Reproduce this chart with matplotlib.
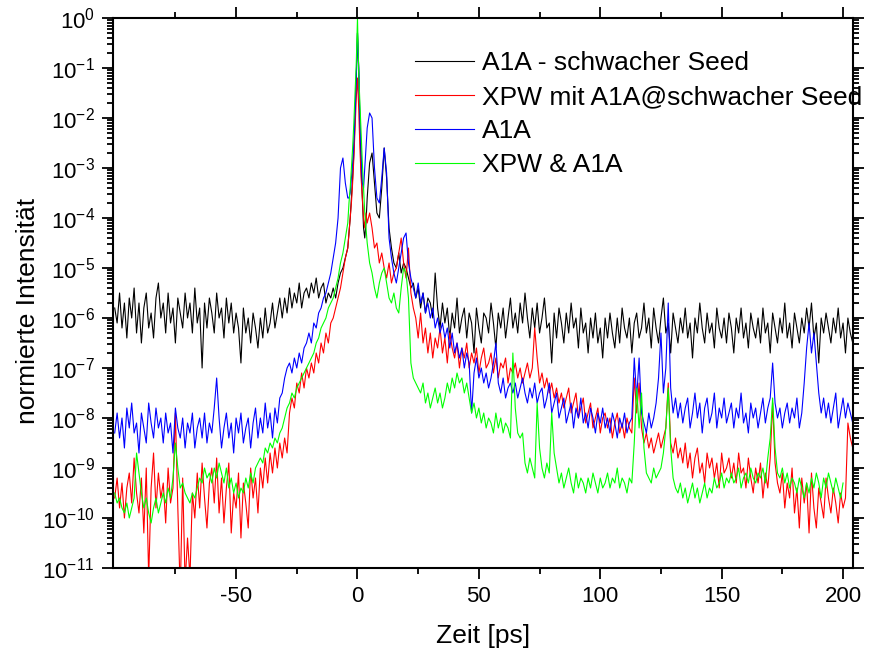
import numpy as np
import matplotlib
matplotlib.use('Agg')
import matplotlib.pyplot as plt
from matplotlib.ticker import FixedLocator, LogLocator, NullFormatter

plt.rcParams['font.family'] = ['Liberation Sans', 'DejaVu Sans']
plt.rcParams['mathtext.fontset'] = 'custom'
plt.rcParams['mathtext.rm'] = 'Liberation Sans'
plt.rcParams['mathtext.it'] = 'Liberation Sans'
plt.rcParams['axes.unicode_minus'] = False

# time grid [ps]: coarse on the wings, finer around the main pulse
x_left = np.arange(-100, -3)            # -100 .. -4
x_mid = np.arange(-3.5, 4.0, 0.5)       # -3.5 .. 3.5
x_right = np.arange(4, 205)             # 4 .. 204

# log10 of normalised intensity
black_left = [
    -5.8, -6.1, -5.5, -6.2, -5.7, -6.4, -5.6, -6.0, -5.4, -6.3,
    -5.7, -6.5, -5.8, -5.5, -6.2, -5.9, -6.4, -5.6, -5.3, -6.0,
    -5.7, -6.3, -5.5, -6.1, -5.8, -6.5, -5.6, -5.9, -6.2, -5.5,
    -6.0, -5.7, -6.3, -5.4, -6.1, -5.8, -7.0, -5.7, -6.2, -5.6,
    -5.9, -6.3, -5.5, -6.0, -5.8, -6.4, -5.6, -6.1, -5.7, -6.3,
    -5.9, -6.2, -6.9, -5.8, -6.3, -6.0, -6.5, -5.9, -6.2, -6.6,
    -6.0, -6.4, -5.8, -6.3, -6.1, -5.7, -6.2, -5.9, -5.6, -6.0,
    -5.6, -5.9, -5.4, -5.8, -5.5, -5.7, -5.3, -5.8, -5.5, -5.4,
    -5.6, -5.3, -5.5, -5.2, -5.6, -5.4, -5.3, -5.7, -5.5, -5.6,
    -5.4, -5.6, -5.3, -5.1, -5.0, -4.8, -4.6]
black_mid = [-4.3, -4.0, -3.6, -3.2, -2.7, -2.0, -1.2, -0.3,
             -1.0, -2.2, -3.0, -3.6, -4.2, -4.4, -4.1]
black_right = [
    -3.6, -2.9, -2.7, -3.3, -3.9, -4.0, -3.4, -2.6, -3.2, -4.2,
    -4.6, -4.9, -5.0, -4.7, -5.1, -4.9, -5.0, -5.2, -5.4, -5.3,
    -5.6, -5.4, -5.8, -5.5, -5.9, -5.6, -5.7, -6.0, -5.1, -5.8,
    -6.2, -5.7, -6.1, -5.8, -6.4, -5.9, -6.2, -5.6, -6.3, -6.0,
    -5.8, -6.4, -5.9, -6.1, -6.7, -5.8, -6.2, -6.5, -5.9, -6.0,
    -6.3, -5.7, -6.1, -6.6, -5.9, -6.2, -5.8, -6.4, -6.0, -5.6,
    -6.2, -5.9, -6.3, -5.7, -6.1, -5.5, -6.0, -6.4, -5.8, -6.2,
    -5.7, -6.3, -6.0, -5.6, -6.2, -6.1, -6.9, -5.9, -6.4, -5.8,
    -6.1, -6.5, -5.9, -6.3, -5.7, -6.2, -6.0, -6.6, -5.8, -6.3,
    -6.1, -6.7, -6.0, -6.4, -5.9, -6.5, -6.2, -6.8, -6.0, -6.4,
    -5.9, -6.3, -6.6, -6.0, -6.5, -5.8, -6.2, -6.4, -6.0, -6.7,
    -6.1, -5.9, -6.4, -6.2, -5.7, -6.3, -6.0, -6.6, -5.8, -6.2,
    -6.5, -6.0, -5.6, -6.3, -6.1, -6.7, -5.9, -6.2, -6.5, -6.0,
    -6.3, -5.8, -6.4, -6.1, -6.8, -6.0, -6.3, -5.7, -6.2, -6.5,
    -5.9, -6.3, -6.1, -6.6, -5.8, -6.2, -6.4, -6.0, -6.5, -5.9,
    -6.2, -6.7, -6.0, -6.3, -5.8, -6.4, -6.1, -6.6, -5.9, -6.2,
    -6.4, -6.0, -6.5, -5.8, -6.3, -6.1, -6.7, -5.9, -6.2, -6.5,
    -6.0, -6.3, -5.7, -6.4, -6.1, -6.6, -5.9, -6.2, -6.5, -6.0,
    -6.3, -5.8, -6.2, -5.7, -6.4, -6.1, -6.9, -6.0, -6.3, -5.9,
    -6.2, -6.5, -6.0, -6.3, -5.8, -6.4, -6.1, -6.7, -6.0, -6.3,
    -6.5]

red_left = [
    -9.6, -9.2, -9.8, -9.3, -10.0, -9.4, -9.1, -9.7, -8.8, -9.5,
    -9.9, -9.2, -10.3, -9.0, -11.2, -9.4, -8.7, -9.8, -9.1, -9.6,
    -9.3, -10.1, -9.0, -9.7, -9.4, -7.9, -9.8, -11.5, -9.2, -11.3,
    -10.4, -11.2, -9.5, -10.0, -9.1, -9.8, -8.9, -9.6, -10.2, -9.3,
    -9.0, -9.7, -8.8, -9.9, -9.2, -10.1, -9.4, -8.9, -10.3, -9.5,
    -9.8, -9.1, -10.4, -9.3, -9.7, -10.2, -9.0, -9.6, -9.2, -9.9,
    -9.0, -9.4, -8.8, -9.3, -8.7, -9.1, -8.6, -9.0, -8.5, -8.8,
    -8.4, -8.7, -7.9, -7.6, -7.8, -7.3, -7.5, -7.1, -7.4, -7.0,
    -7.2, -6.9, -7.1, -6.7, -6.9, -6.5, -6.7, -6.3, -6.5, -6.1,
    -6.0, -5.8, -5.6, -5.4, -5.1, -4.8, -4.6]
red_mid = [-4.3, -4.0, -3.7, -3.3, -2.8, -2.2, -1.6, -1.2,
           -1.8, -2.6, -3.2, -3.6, -4.0, -4.2, -3.9]
red_right = [
    -4.1, -3.9, -4.2, -4.6, -4.5, -4.9, -4.7, -5.0, -5.2, -4.9,
    -5.3, -5.1, -5.0, -4.7, -4.4, -4.9, -5.2, -4.6, -5.5, -5.8,
    -6.0, -6.4, -5.9, -6.5, -6.2, -6.7, -6.3, -6.8, -6.4, -6.6,
    -6.2, -6.7, -6.4, -6.9, -6.3, -6.6, -6.8, -6.5, -7.0, -6.6,
    -6.8, -6.5, -7.0, -6.7, -6.9, -6.6, -7.1, -6.8, -6.6, -7.0,
    -6.9, -6.7, -7.1, -6.8, -7.2, -6.9, -7.0, -6.8, -7.3, -7.0,
    -7.1, -6.9, -7.2, -7.0, -7.3, -7.1, -6.9, -7.2, -7.0, -6.2,
    -6.8, -7.3, -7.1, -7.4, -7.2, -7.5, -7.3, -7.6, -7.4, -7.7,
    -7.5, -7.8, -7.6, -7.4, -7.9, -7.7, -7.5, -8.0, -7.8, -7.6,
    -8.1, -7.9, -7.7, -8.2, -8.0, -7.8, -8.3, -8.0, -7.9, -8.2,
    -8.0, -8.4, -8.1, -7.9, -8.3, -8.1, -8.4, -8.0, -8.2, -8.3,
    -7.2, -7.9, -7.3, -8.2, -8.5, -8.3, -8.6, -8.4, -8.7, -8.5,
    -8.3, -8.6, -8.4, -8.2, -7.3, -8.5, -8.7, -8.4, -8.8, -8.6,
    -8.9, -8.5, -9.0, -8.7, -9.2, -8.8, -8.6, -9.1, -8.9, -9.3,
    -8.7, -9.0, -8.8, -9.2, -8.9, -9.4, -8.7, -9.1, -9.0, -8.8,
    -9.2, -8.9, -9.3, -8.7, -9.1, -9.0, -9.4, -8.8, -9.2, -9.5,
    -9.0, -9.3, -8.9, -9.6, -9.1, -9.4, -8.8, -7.7, -8.9, -9.3,
    -9.5, -9.1, -9.8, -9.3, -9.6, -9.0, -9.9, -9.4, -10.2, -9.2,
    -9.7, -9.3, -10.3, -9.1, -9.8, -10.2, -9.4, -9.7, -10.0, -9.2,
    -9.6, -9.9, -9.4, -9.7, -10.1, -9.5, -9.8, -9.6, -8.1, -8.4,
    -8.6]

blue_left = [
    -8.3, -7.9, -8.4, -8.0, -8.6, -7.8, -8.2, -7.7, -8.3, -8.1,
    -8.7, -7.9, -8.2, -8.5, -7.7, -8.1, -8.4, -7.8, -8.2, -8.0,
    -8.5, -7.9, -8.3, -8.1, -8.7, -7.8, -8.2, -8.4, -8.0, -8.6,
    -8.1, -8.3, -7.9, -8.6, -8.2, -8.0, -8.4, -7.9, -8.5, -8.1,
    -8.3, -7.8, -7.2, -8.0, -8.6, -8.2, -7.9, -8.4, -8.1, -8.7,
    -8.0, -8.3, -7.9, -8.5, -8.2, -8.0, -8.6, -8.1, -7.8, -8.4,
    -8.0, -8.3, -7.7, -8.2, -7.9, -8.4, -7.8, -8.1, -7.6, -7.5,
    -7.2, -7.0, -6.9, -7.1, -6.8, -7.0, -6.7, -6.9, -6.6, -6.5,
    -6.3, -6.5, -6.1, -6.2, -5.9, -5.8, -5.6, -5.5, -5.3, -5.1,
    -4.8, -4.5, -4.0, -3.0, -2.8, -3.3, -3.6]
blue_mid = [-3.6, -3.5, -3.2, -2.9, -2.5, -1.9, -1.2, -0.3,
            -1.0, -2.0, -2.7, -3.3, -3.4, -3.0, -2.6]
blue_right = [
    -2.2, -1.9, -2.0, -3.0, -3.6, -3.7, -3.2, -2.6, -3.1, -4.4,
    -4.8, -5.1, -5.3, -5.0, -4.7, -4.4, -4.3, -4.9, -5.2, -5.4,
    -5.6, -5.3, -5.7, -5.5, -5.9, -5.7, -6.0, -5.8, -6.2, -6.0,
    -6.3, -6.1, -6.4, -6.2, -6.6, -6.3, -6.7, -6.5, -6.8, -6.6,
    -7.0, -6.7, -6.9, -7.9, -7.1, -6.8, -7.2, -7.0, -7.3, -7.1,
    -7.4, -7.2, -6.9, -6.5, -7.3, -7.5, -7.2, -7.6, -7.4, -7.3,
    -7.5, -7.3, -7.6, -7.4, -7.2, -7.5, -7.7, -7.4, -7.6, -7.3,
    -7.7, -7.5, -7.4, -7.8, -7.6, -7.3, -7.9, -7.7, -7.5, -8.0,
    -7.8, -7.6, -8.1, -7.9, -7.7, -8.2, -7.8, -8.0, -7.6, -8.1,
    -7.9, -8.2, -7.8, -8.0, -8.3, -7.9, -8.1, -7.8, -8.2, -8.0,
    -8.3, -7.9, -8.1, -8.4, -8.0, -8.2, -7.9, -8.3, -8.1, -8.0,
    -6.8, -7.6, -6.8, -7.9, -8.1, -8.3, -7.9, -8.2, -8.0, -7.7,
    -7.2, -6.3, -7.5, -7.0, -5.7, -7.4, -7.9, -7.6, -8.0, -7.7,
    -8.1, -7.8, -7.6, -8.2, -7.9, -7.5, -8.0, -7.7, -8.3, -7.8,
    -7.6, -8.1, -7.9, -7.5, -8.2, -7.8, -8.0, -7.6, -8.1, -7.9,
    -7.7, -8.2, -7.8, -8.0, -7.5, -8.1, -7.9, -8.3, -7.7, -8.0,
    -7.8, -8.2, -7.9, -7.6, -8.1, -7.8, -7.6, -6.9, -7.7, -8.0,
    -7.8, -8.2, -7.9, -7.7, -8.1, -7.8, -8.0, -7.6, -8.2, -7.9,
    -7.3, -6.6, -6.1, -6.7, -6.3, -6.9, -7.5, -7.9, -7.6, -8.0,
    -7.7, -8.1, -7.8, -7.5, -8.2, -7.9, -7.6, -8.0, -7.7, -7.9,
    -8.1]

green_left = [
    -9.5, -9.7, -9.6, -9.8, -9.9, -9.7, -10.0, -9.8, -9.6, -8.7,
    -9.1, -9.5, -9.8, -9.6, -9.9, -10.1, -9.8, -9.6, -9.9, -9.7,
    -9.5, -9.7, -9.4, -9.6, -9.2, -8.5, -9.0, -9.4, -9.3, -9.5,
    -9.6, -9.7, -9.5, -9.6, -9.4, -9.2, -9.3, -9.0, -9.2, -9.1,
    -9.3, -9.0, -9.2, -8.9, -9.1, -9.3, -9.0, -9.4, -9.2, -9.5,
    -9.3, -9.6, -9.4, -9.5, -9.2, -9.4, -9.1, -9.3, -9.0, -8.9,
    -8.8, -8.9, -8.6, -8.7, -8.5, -8.6, -8.4, -8.5, -8.3, -8.2,
    -8.0, -7.8, -7.7, -7.5, -7.6, -7.4, -7.3, -7.2, -7.1, -7.0,
    -6.9, -6.8, -6.7, -6.5, -6.4, -6.2, -6.1, -6.0, -5.8, -5.7,
    -5.6, -5.4, -5.2, -4.9, -4.7, -4.4, -4.1]
green_mid = [-3.7, -3.4, -3.0, -2.6, -2.1, -1.5, -0.9, 0.0,
             -1.1, -1.7, -2.3, -2.9, -3.4, -3.9, -4.2]
green_right = [
    -4.5, -4.9, -5.1, -5.4, -5.6, -5.3, -5.1, -5.0, -5.3, -5.6,
    -5.7, -5.5, -5.8, -5.9, -5.4, -5.0, -5.1, -5.6, -6.9, -7.2,
    -7.3, -7.4, -7.5, -7.3, -7.7, -7.5, -7.8, -7.6, -7.4, -7.7,
    -7.5, -7.8, -7.6, -7.3, -7.5, -7.2, -7.4, -7.1, -7.3, -7.2,
    -7.5, -7.3, -7.6, -7.9, -7.7, -8.0, -7.8, -8.1, -7.9, -8.2,
    -8.0, -8.1, -8.3, -7.9, -8.2, -8.0, -8.3, -8.1, -8.2, -8.4,
    -6.7, -7.8, -8.3, -8.4, -8.3, -8.9, -9.1, -8.8, -9.0, -9.2,
    -7.7, -8.6, -9.0, -9.2, -8.9, -9.1, -7.9, -8.7, -9.0, -9.3,
    -9.1, -9.4, -9.2, -9.0, -9.3, -9.5, -9.1, -9.4, -9.2, -9.3,
    -9.5, -9.2, -9.4, -9.1, -9.3, -9.5, -9.2, -9.4, -9.3, -9.1,
    -9.4, -9.2, -9.3, -9.0, -9.4, -9.2, -9.3, -9.5, -9.2, -9.3,
    -8.5, -7.4, -8.2, -7.5, -8.6, -9.1, -9.2, -9.3, -9.0, -9.2,
    -9.1, -9.0, -8.7, -8.2, -7.4, -8.6, -9.2, -9.4, -9.5, -9.3,
    -9.6, -9.4, -9.7, -9.5, -9.3, -9.6, -9.4, -9.7, -9.5, -9.3,
    -9.6, -9.4, -9.5, -9.2, -9.4, -9.3, -9.1, -9.4, -9.2, -9.3,
    -9.1, -9.3, -9.2, -9.0, -9.4, -9.2, -9.1, -9.3, -9.0, -9.2,
    -9.3, -9.1, -9.2, -9.0, -9.3, -8.8, -8.4, -7.6, -8.6, -9.1,
    -9.2, -9.0, -9.3, -9.1, -9.4, -9.2, -9.3, -9.5, -9.2, -9.4,
    -9.6, -9.3, -9.5, -9.2, -9.4, -9.1, -9.3, -9.6, -9.2, -9.4,
    -9.1, -9.3, -9.5, -9.2, -9.4, -9.6, -9.3, np.nan, np.nan, np.nan,
    np.nan]

labels = ['A1A - schwacher Seed', 'XPW mit A1A@schwacher Seed', 'A1A', 'XPW & A1A']
colors = ['black', '#ff0000', '#0000ff', '#00ff00']

t = np.concatenate([x_left, x_mid, x_right])
series = [
    black_left + black_mid + black_right,
    red_left + red_mid + red_right,
    blue_left + blue_mid + blue_right,
    green_left + green_mid + green_right,
]

fig = plt.figure(figsize=(8.74, 6.53), dpi=100)
ax = fig.add_axes([113 / 874, 1 - 568 / 653, 740 / 874, 550 / 653])

for vals, col, lab in zip(series, colors, labels):
    ax.plot(t, 10.0 ** np.array(vals, dtype=float), color=col, lw=0.8, label=lab)

ax.set_yscale('log')
ax.set_xlim(-100.7, 204.1)
ax.set_ylim(1e-11, 1)

ax.xaxis.set_major_locator(FixedLocator([-50, 0, 50, 100, 150, 200]))
ax.xaxis.set_minor_locator(FixedLocator([-75, -25, 25, 75, 125, 175]))
ax.yaxis.set_major_locator(LogLocator(base=10, numticks=20))
ax.yaxis.set_minor_locator(LogLocator(base=10, subs=np.arange(2, 10), numticks=20))
ax.yaxis.set_minor_formatter(NullFormatter())

for sp in ax.spines.values():
    sp.set_linewidth(1.5)
ax.tick_params(which='both', direction='out', top=True, right=True, width=1.3, labelsize=16)
ax.tick_params(which='major', length=8, pad=5)
ax.tick_params(which='minor', length=4.5)

ax.set_xlabel('Zeit [ps]', fontsize=19, labelpad=12)
ax.set_ylabel('normierte Intensität', fontsize=19)
ax.yaxis.set_label_coords(-0.099, 0.467)

ax.legend(loc='upper left', bbox_to_anchor=(415 / 874, 1 - 51 / 653),
          bbox_transform=fig.transFigure, frameon=False, fontsize=19,
          borderpad=0, borderaxespad=0, handlelength=2.25, handletextpad=0.27,
          labelspacing=0.38)

fig.savefig('out.png', dpi=100)
